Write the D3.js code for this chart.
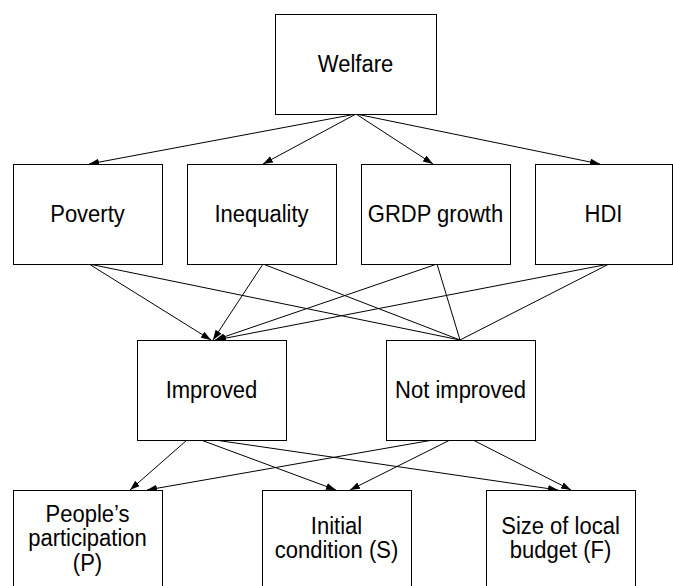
<!DOCTYPE html>
<html>
<head>
<meta charset="utf-8">
<script src="https://cdn.jsdelivr.net/npm/d3@7"></script>
<style>
  body { margin: 0; background: #fff; }
  svg { display: block; }
  text { font-family: "Liberation Sans", Arial, sans-serif; font-size: 22px; fill: #000; }
</style>
</head>
<body>
<div id="diagram"></div>
<script>
var width = 673;
var height = 586;

// diagram content
var levels = ['goal', 'indicator', 'outcome', 'factor'];
var nodeNames = ['Welfare', 'Poverty', 'Inequality', 'GRDP growth', 'HDI',
    'Improved', 'Not improved', 'People\u2019s participation (P)',
    'Initial condition (S)', 'Size of local budget (F)'];
var nodeLevels = ['goal', 'indicator', 'indicator', 'indicator', 'indicator',
    'outcome', 'outcome', 'factor', 'factor', 'factor'];
var nodeLines = [['Welfare'], ['Poverty'], ['Inequality'], ['GRDP growth'], ['HDI'],
    ['Improved'], ['Not improved'], ['People\u2019s', 'participation', '(P)'],
    ['Initial', 'condition (S)'], ['Size of local', 'budget (F)']];
var edgeFrom = ['Welfare', 'Welfare', 'Welfare', 'Welfare',
    'Poverty', 'Poverty', 'Inequality', 'Inequality',
    'GRDP growth', 'GRDP growth', 'HDI', 'HDI',
    'Improved', 'Improved', 'Improved',
    'Not improved', 'Not improved', 'Not improved'];
var edgeTo = ['Poverty', 'Inequality', 'GRDP growth', 'HDI',
    'Improved', 'Not improved', 'Improved', 'Not improved',
    'Improved', 'Not improved', 'Improved', 'Not improved',
    'People\u2019s participation (P)', 'Initial condition (S)', 'Size of local budget (F)',
    'People\u2019s participation (P)', 'Initial condition (S)', 'Size of local budget (F)'];

// layout (pixels)
var boxHeight = 100;
var levelTop = d3.scaleOrdinal().domain(levels).range([14, 164, 340, 490]);
var boxLeft = d3.scaleOrdinal().domain(nodeNames)
    .range([275, 13, 187, 361, 535, 137, 386, 13, 262, 486]);
var boxWidth = d3.scaleOrdinal().domain(nodeNames)
    .range([161, 149, 149, 149, 137, 149, 149, 149, 149, 149]);
var srcX = [356, 356, 356, 356, 89, 89, 263, 263, 437, 437, 609, 609,
    187, 201, 215, 433, 450, 473];
var dstX = [89, 263, 433, 600, 211, 460, 213, 460, 215, 460, 216, 460,
    130, 336, 558, 147, 350, 571];

var svg = d3.select('#diagram').append('svg')
    .attr('width', width)
    .attr('height', height);

svg.append('defs').append('marker')
    .attr('id', 'arrow')
    .attr('markerUnits', 'userSpaceOnUse')
    .attr('markerWidth', 11)
    .attr('markerHeight', 8)
    .attr('refX', 10)
    .attr('refY', 3.5)
    .attr('orient', 'auto')
    .append('path')
    .attr('d', 'M0,0L10,3.5L0,7Z')
    .attr('fill', '#000');

var levelOf = {};
nodeNames.forEach(function (n, i) { levelOf[n] = nodeLevels[i]; });

var edges = edgeFrom.map(function (f, i) {
    return { from: f, to: edgeTo[i], x1: srcX[i], x2: dstX[i] };
});

svg.append('g').selectAll('line')
    .data(edges)
    .enter()
    .append('line')
    .attr('x1', d => d.x1)
    .attr('y1', d => levelTop(levelOf[d.from]) + boxHeight)
    .attr('x2', d => d.x2)
    .attr('y2', d => levelTop(levelOf[d.to]))
    .attr('stroke', '#000')
    .attr('stroke-width', 1)
    .attr('marker-end', d => d.to == 'Not improved' ? null : 'url(#arrow)');

var nodes = nodeNames.map(function (n, i) {
    return { name: n, level: nodeLevels[i], lines: nodeLines[i] };
});

var nodeG = svg.append('g').selectAll('g')
    .data(nodes)
    .enter()
    .append('g');

nodeG.append('rect')
    .attr('x', d => boxLeft(d.name) + 0.5)
    .attr('y', d => levelTop(d.level) + 0.5)
    .attr('width', d => boxWidth(d.name))
    .attr('height', boxHeight)
    .attr('fill', '#fff')
    .attr('stroke', '#000')
    .attr('stroke-width', 1);

// text is a little taller than wide in the original
var lineGap = 24.5;
nodeG.each(function (d) {
    var cx = boxLeft(d.name) + boxWidth(d.name) / 2;
    var cy = levelTop(d.level) + boxHeight / 2;
    if (d.level == 'factor') cy = levelTop(d.level) + 48;
    var first = cy + 8 - (d.lines.length - 1) * lineGap / 2;
    d3.select(this).selectAll('text')
        .data(d.lines)
        .enter()
        .append('text')
        .attr('transform', (t, i) => `translate(${cx}, ${first + i * lineGap}) scale(1, 1.09)`)
        .attr('text-anchor', 'middle')
        .text(t => t);
});
</script>
</body>
</html>
